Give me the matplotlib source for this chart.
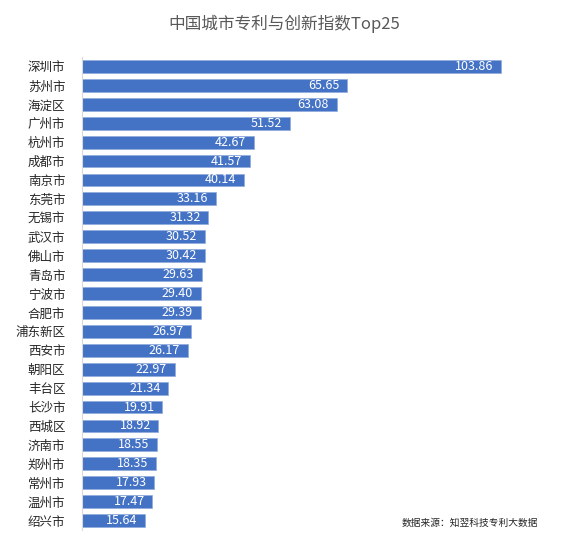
import matplotlib
matplotlib.use('Agg')
import matplotlib.pyplot as plt

plt.rcParams['font.family'] = ['Noto Sans CJK SC', 'DejaVu Sans']

cities = ['深圳市', '苏州市', '海淀区', '广州市', '杭州市', '成都市', '南京市', '东莞市',
          '无锡市', '武汉市', '佛山市', '青岛市', '宁波市', '合肥市', '浦东新区', '西安市',
          '朝阳区', '丰台区', '长沙市', '西城区', '济南市', '郑州市', '常州市', '温州市', '绍兴市']
scores = [103.86, 65.65, 63.08, 51.52, 42.67, 41.57, 40.14, 33.16, 31.32, 30.52, 30.42,
          29.63, 29.40, 29.39, 26.97, 26.17, 22.97, 21.34, 19.91, 18.92, 18.55, 18.35,
          17.93, 17.47, 15.64]

fig = plt.figure(figsize=(5.67, 5.4), dpi=100)
ax = fig.add_axes([82 / 567, 1 - 530 / 540, 464 / 567, 473 / 540])

ypos = list(range(len(cities)))
ax.barh(ypos, scores, height=0.68, color='#4472C4', edgecolor='#8FAADC', linewidth=0.5)

# 数值标签放在柱子内部右端
for y, v in zip(ypos, scores):
    ax.text(v - 1.9, y, f'{v:.2f}', ha='right', va='center', color='white', fontsize=9)

ax.set_xlim(0, 115)
ax.set_ylim(len(cities) - 0.5, -0.5)
ax.set_yticks(ypos)
ax.set_yticklabels(cities, fontsize=9, color='#262626')
ax.tick_params(axis='y', length=0, pad=12)
ax.xaxis.set_visible(False)
for side in ['top', 'right', 'bottom']:
    ax.spines[side].set_visible(False)
ax.spines['left'].set_color('#D9D9D9')
ax.spines['left'].set_linewidth(0.8)

fig.text(284 / 567, 1 - 24 / 540, '中国城市专利与创新指数Top25', ha='center', va='center',
         fontsize=12, color='#595959')
fig.text(538 / 567, 1 - 523 / 540, '数据来源：知翌科技专利大数据', ha='right', va='center',
         fontsize=7, color='#262626')

fig.savefig('out.png', dpi=100)
